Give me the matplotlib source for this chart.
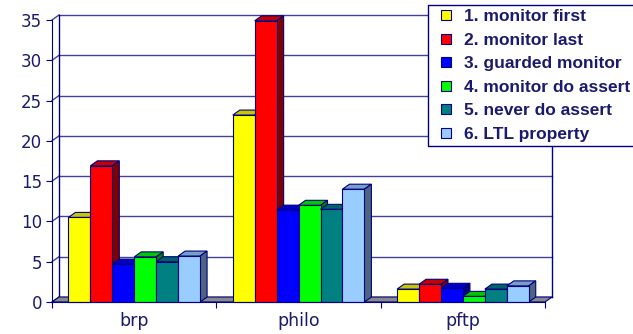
import matplotlib
matplotlib.use("Agg")
import matplotlib.pyplot as plt
from matplotlib.patches import Polygon
from matplotlib.lines import Line2D
import numpy as np

# --- data -------------------------------------------------------------
categories = ["brp", "philo", "pftp"]
series_names = [
    "1. monitor first",
    "2. monitor last",
    "3. guarded monitor",
    "4. monitor do assert",
    "5. never do assert",
    "6. LTL property",
]
monitor_first = [10.5, 23.2, 1.6]
monitor_last = [16.9, 34.9, 2.2]
guarded_monitor = [4.7, 11.4, 1.7]
monitor_do_assert = [5.6, 12.0, 0.7]
never_do_assert = [5.0, 11.5, 1.6]
ltl_property = [5.7, 14.0, 2.0]
y_ticks = [0, 5, 10, 15, 20, 25, 30, 35]

series_values = [monitor_first, monitor_last, guarded_monitor,
                 monitor_do_assert, never_do_assert, ltl_property]
face_colors = ["#FFFF00", "#FF0000", "#0000FF", "#00FF00", "#008080", "#99CCFF"]

NAVY = "#000080"
TEXT = "#1a1a6e"

# --- figure -----------------------------------------------------------
W, H = 633, 334
fig = plt.figure(figsize=(W / 100, H / 100), dpi=100)
ax = fig.add_axes([52 / W, (H - 302) / H, 493 / W, 282 / H])
ax.set_xlim(-0.5, 2.5)
ax.set_ylim(0, 35)

# depth of the 3-D effect in data units
dx = 7 / (493 / 3)
dy = 5 / (282 / 35)


def shade(c, f):
    rgb = np.array(matplotlib.colors.to_rgb(c))
    return tuple(rgb * f)


# back wall, side wall and floor
x0, x1 = -0.5, 2.5
for t in y_ticks:
    ax.plot([x0 + dx, x1 + dx], [t + dy, t + dy], color=NAVY, lw=1,
            alpha=0.75, clip_on=False, zorder=1)
    ax.plot([x0, x0 + dx], [t, t + dy], color=NAVY, lw=1, alpha=0.75,
            clip_on=False, zorder=1)
ax.plot([x0 + dx, x0 + dx], [dy, 35 + dy], color=NAVY, lw=1,
        clip_on=False, zorder=1)
ax.plot([x1 + dx, x1 + dx], [dy, 35 + dy], color=NAVY, lw=1,
        clip_on=False, zorder=1)
floor = Polygon([(x0, 0), (x1, 0), (x1 + dx, dy), (x0 + dx, dy)],
                closed=True, facecolor="#8a8a8a", edgecolor=NAVY, lw=0.8,
                clip_on=False, zorder=2)
ax.add_patch(floor)

# bars
n = len(series_values)
bw = 0.1335
start = -0.4
z = 3
for ci in range(len(categories)):
    for si in range(n):
        h = series_values[si][ci]
        xl = ci + start + si * bw
        col = face_colors[si]
        top = Polygon([(xl, h), (xl + bw, h), (xl + bw + dx, h + dy),
                       (xl + dx, h + dy)], closed=True,
                      facecolor=shade(col, 0.78), edgecolor=NAVY, lw=0.8,
                      clip_on=False, zorder=z)
        side = Polygon([(xl + bw, 0), (xl + bw + dx, dy),
                        (xl + bw + dx, h + dy), (xl + bw, h)], closed=True,
                       facecolor=shade(col, 0.5), edgecolor=NAVY, lw=0.8,
                       clip_on=False, zorder=z)
        ax.add_patch(top)
        ax.add_patch(side)
        ax.bar(xl, h, width=bw, align="edge", color=col, edgecolor=NAVY,
               lw=0.8, clip_on=False, zorder=z + 0.5)
        z += 1

# axes styling
for s in ["top", "right"]:
    ax.spines[s].set_visible(False)
ax.spines["left"].set_color(NAVY)
ax.spines["bottom"].set_color(NAVY)
ax.spines["left"].set_zorder(100)
ax.spines["bottom"].set_zorder(100)
ax.set_yticks(y_ticks)
ax.set_xticks([-0.5, 0.5, 1.5, 2.5])
ax.set_xticklabels([])
ax.set_xticks(range(len(categories)), minor=True)
ax.set_xticklabels(categories, minor=True)
ax.tick_params(axis="x", which="minor", length=0, pad=7, labelsize=12.5,
               labelcolor=TEXT)
ax.tick_params(axis="x", which="major", length=4, color=NAVY, direction="out")
ax.tick_params(axis="y", length=4, color=NAVY, pad=3, labelsize=12,
               labelcolor=TEXT)

# legend
handles = [Line2D([], [], ls="none", marker="s", markersize=6.5,
                  markerfacecolor=c, markeredgecolor=NAVY,
                  markeredgewidth=0.8) for c in face_colors]
leg = fig.legend(handles, series_names, loc="upper left",
                 bbox_to_anchor=(428 / W, 1 - 5 / H), borderaxespad=0,
                 frameon=True, fancybox=False, edgecolor=NAVY,
                 framealpha=1, handlelength=1.6, handletextpad=0.2,
                 borderpad=0.25, labelspacing=0.48,
                 prop={"family": "Liberation Sans", "weight": "bold",
                       "size": 12.5})
leg.get_frame().set_linewidth(1.0)
for t in leg.get_texts():
    t.set_color(TEXT)
leg.set_zorder(200)

fig.savefig("out.png", dpi=100)
